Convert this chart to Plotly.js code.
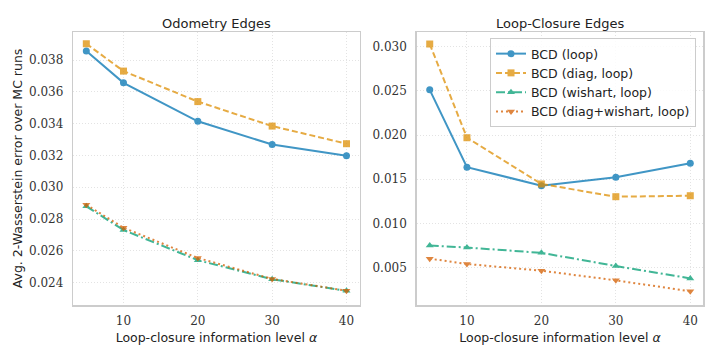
<!DOCTYPE html>
<html>
<head>
<meta charset="utf-8">
<script src="https://cdn.plot.ly/plotly-3.0.1.min.js"></script>
<style>
  html, body { margin: 0; padding: 0; background: #fff; }
  #chart { width: 719px; height: 360px; }
</style>
</head>
<body>
<div id="chart"></div>
<script>
// information levels (x)
var alphas = [5, 10, 20, 30, 40];

// odometry edges
var odoLoop = [0.03857, 0.03657, 0.03415, 0.03269, 0.03198];
var odoDiag = [0.03903, 0.03731, 0.03539, 0.03385, 0.03274];
var odoWish = [0.02880, 0.02731, 0.02541, 0.02421, 0.02348];
var odoDiagWish = [0.02890, 0.02745, 0.02555, 0.02423, 0.02349];

// loop-closure edges
var lcLoop = [0.02512, 0.01636, 0.01428, 0.01523, 0.01681];
var lcDiag = [0.03030, 0.01970, 0.01447, 0.01303, 0.01314];
var lcWish = [0.00751, 0.00728, 0.00668, 0.00519, 0.00379];
var lcDiagWish = [0.00602, 0.00542, 0.00466, 0.00357, 0.00233];

var names = ["BCD (loop)", "BCD (diag, loop)", "BCD (wishart, loop)", "BCD (diag+wishart, loop)"];
var colors = ["#0173b2", "#de8f05", "#029e73", "#d55e00"];
var dashes = ["solid", "6px,3px", "9px,3px,2px,3px", "2px,3px"];
var symbols = ["circle", "square", "triangle-up", "triangle-down"];

function mk(y, i, xa, ya, legend) {
  return {
    x: alphas, y: y, type: "scatter", mode: "lines+markers",
    name: names[i], xaxis: xa, yaxis: ya, showlegend: legend,
    opacity: 0.75,
    line: {color: colors[i], width: 2, dash: dashes[i]},
    marker: {color: colors[i], symbol: symbols[i], size: 7}
  };
}

var data = [
  mk(odoLoop, 0, "x", "y", false),
  mk(odoDiag, 1, "x", "y", false),
  mk(odoWish, 2, "x", "y", false),
  mk(odoDiagWish, 3, "x", "y", false),
  mk(lcLoop, 0, "x2", "y2", true),
  mk(lcDiag, 1, "x2", "y2", true),
  mk(lcWish, 2, "x2", "y2", true),
  mk(lcDiagWish, 3, "x2", "y2", true)
];

var W = 719, H = 360;
var tickFont = {family: "DejaVu Serif", size: 12, color: "#333"};
var sans = "DejaVu Sans";

function xax(l, r) {
  return {
    domain: [l / W, r / W], range: [3.25, 41.75],
    tickvals: [10, 20, 30, 40], ticks: "", tickfont: tickFont, ticklabelstandoff: 4,
    showgrid: true, gridcolor: "#e3e3e3", griddash: "1px,2px", gridwidth: 1,
    showline: true, mirror: true, linecolor: "#cccccc", linewidth: 1.5,
    zeroline: false,
    title: {text: "Loop-closure information level <i>α</i>", font: {family: sans, size: 12.5, color: "#222"}, standoff: 6}
  };
}
function yax(range, vals, title) {
  var a = {
    domain: [1 - 305 / H, 1 - 32 / H], range: range,
    tickvals: vals, tickformat: ".3f", ticks: "", tickfont: tickFont, ticklabelstandoff: 6,
    showgrid: true, gridcolor: "#e3e3e3", griddash: "1px,2px", gridwidth: 1,
    showline: true, mirror: true, linecolor: "#cccccc", linewidth: 1.5,
    zeroline: false
  };
  if (title) a.title = {text: title, font: {family: sans, size: 12.5, color: "#222"}, standoff: 3};
  return a;
}

var x1 = xax(73.3, 359.5), x2 = xax(416.7, 703.3);
x2.anchor = "y2";
var y1 = yax([0.02259, 0.03977], [0.024, 0.026, 0.028, 0.030, 0.032, 0.034, 0.036, 0.038],
  "Avg. 2-Wasserstein error over MC runs");
var y2 = yax([0.00078, 0.03166], [0.005, 0.010, 0.015, 0.020, 0.025, 0.030], null);
y2.anchor = "x2";

var layout = {
  width: W, height: H,
  margin: {l: 0, r: 0, t: 0, b: 0},
  paper_bgcolor: "#fff", plot_bgcolor: "#fff",
  font: {family: sans, color: "#222"},
  xaxis: x1, yaxis: y1, xaxis2: x2, yaxis2: y2,
  showlegend: true,
  legend: {
    x: 696 / W, y: 1 - 38 / H, xanchor: "right", yanchor: "top",
    bgcolor: "rgba(255,255,255,0.85)", bordercolor: "#cccccc", borderwidth: 1,
    font: {family: sans, size: 12.5, color: "#222"}, tracegroupgap: 0
  },
  annotations: [
    {text: "Odometry Edges", xref: "paper", yref: "paper", x: (73.3 + 359.5) / 2 / W, y: 1 - 23 / H,
     xanchor: "center", yanchor: "middle", showarrow: false, font: {family: sans, size: 13, color: "#222"}},
    {text: "Loop-Closure Edges", xref: "paper", yref: "paper", x: (416.7 + 703.3) / 2 / W, y: 1 - 23 / H,
     xanchor: "center", yanchor: "middle", showarrow: false, font: {family: sans, size: 13, color: "#222"}}
  ]
};

Plotly.newPlot("chart", data, layout, {displayModeBar: false, staticPlot: true});
</script>
</body>
</html>
